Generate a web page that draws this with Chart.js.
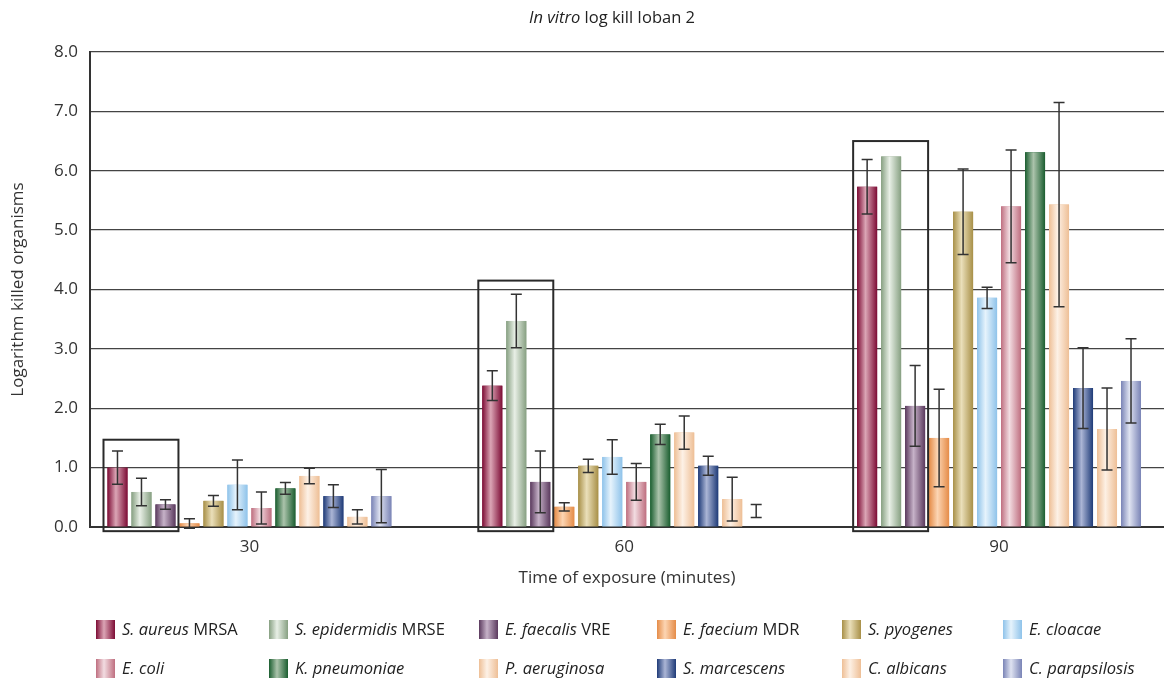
<!DOCTYPE html>
<html>
<head>
<meta charset="utf-8">
<script src="https://cdn.jsdelivr.net/npm/chart.js@4.4.0/dist/chart.umd.min.js"></script>
<style>
  body { margin: 0; background: #fff; }
  canvas { display: block; }
</style>
</head>
<body>
<canvas id="grafico_logkill" width="1164" height="680"></canvas>
<script>
// exposure times (minutes) = x ticks
const exposureTimes = [30, 60, 90];

const species = ['S. aureus', 'S. epidermidis', 'E. faecalis', 'E. faecium', 'S. pyogenes', 'E. cloacae',
                 'E. coli', 'K. pneumoniae', 'P. aeruginosa', 'S. marcescens', 'C. albicans', 'C. parapsilosis'];
const strainTags = ['MRSA', 'MRSE', 'VRE', 'MDR', '', '', '', '', '', '', '', ''];

// mean log kill per organism, one array per exposure time
const logKill30 = [1.00, 0.59, 0.38, 0.06, 0.44, 0.71, 0.32, 0.65, 0.86, 0.52, 0.17, 0.52];
const logKill60 = [2.38, 3.47, 0.76, 0.34, 1.03, 1.18, 0.76, 1.56, 1.59, 1.03, 0.47, 0.27];
const logKill90 = [5.73, 6.24, 2.04, 1.50, 5.31, 3.86, 5.40, 6.31, 5.43, 2.34, 1.65, 2.46];

// error bars (+/-), null = none drawn
const err30 = [0.28, 0.23, 0.08, 0.08, 0.09, 0.42, 0.27, 0.10, 0.13, 0.19, 0.12, 0.45];
const err60 = [0.25, 0.45, 0.52, 0.07, 0.11, 0.29, 0.31, 0.17, 0.28, 0.16, 0.37, 0.11];
const err90 = [0.46, null, 0.68, 0.82, 0.72, 0.18, 0.95, null, 1.72, 0.68, 0.69, 0.71];

// frames round the resistant strains (top value of each frame)
const frameTops = [1.47, 4.15, 6.5];

// [organism, time index] where only the error bar shows
const barsNotDrawn = [[11, 1]];

const logKill = [logKill30, logKill60, logKill90];
const errs = [err30, err60, err90];

// colours: bar edge and bar highlight
const edgeCol = ['#7d0c35', '#87a082', '#5b3a5e', '#e58c48', '#a89048', '#8fc3ea',
                 '#bf6f80', '#1b5e30', '#eebf96', '#1f3b78', '#eebf96', '#7a84b6'];
const lightCol = ['#dba5b5', '#e8efe6', '#c6b2c8', '#fcd5b3', '#eadfba', '#e6f3fc',
                  '#f2dce1', '#abc3ab', '#fdf1e6', '#abb5d5', '#fdf0e4', '#dfe3f1'];

const FONT = 'Open Sans';
const ctx = document.getElementById('grafico_logkill');

function semBarra(i, j) {
  return barsNotDrawn.some(p => p[0] === i && p[1] === j);
}

function gradiente(c, left, width, i) {
  const g = c.createLinearGradient(left, 0, left + width, 0);
  g.addColorStop(0, edgeCol[i]);
  g.addColorStop(0.42, lightCol[i]);
  g.addColorStop(1, edgeCol[i]);
  return g;
}

const datasets = species.map((nome, i) => ({
  label: (nome + ' ' + strainTags[i]).trim(),
  data: exposureTimes.map((t, j) => ({ x: t, y: logKill[j][i] })),
  backgroundColor: c => semBarra(i, c.dataIndex) ? 'rgba(0,0,0,0)' : edgeCol[i],
  borderWidth: 0
}));

const extrasPlugin = {
  id: 'extras',
  afterDatasetsDraw(chart) {
    const c = chart.ctx;
    const y = chart.scales.y;
    c.save();
    // bars with the cylinder shading
    chart.data.datasets.forEach((ds, i) => {
      const meta = chart.getDatasetMeta(i);
      meta.data.forEach((bar, j) => {
        if (semBarra(i, j)) return;
        const left = bar.x - bar.width / 2;
        c.fillStyle = gradiente(c, left, bar.width, i);
        c.fillRect(left, bar.y, bar.width, bar.base - bar.y);
      });
    });
    // error bars
    c.strokeStyle = '#333';
    c.lineWidth = 1.5;
    chart.data.datasets.forEach((ds, i) => {
      const meta = chart.getDatasetMeta(i);
      meta.data.forEach((bar, j) => {
        const e = errs[j][i];
        if (e == null) return;
        const v = logKill[j][i];
        const yt = y.getPixelForValue(v + e);
        const yb = y.getPixelForValue(v - e);
        c.beginPath();
        c.moveTo(bar.x, yt); c.lineTo(bar.x, yb);
        c.moveTo(bar.x - 5.5, yt); c.lineTo(bar.x + 5.5, yt);
        c.moveTo(bar.x - 5.5, yb); c.lineTo(bar.x + 5.5, yb);
        c.stroke();
      });
    });
    // frames
    c.strokeStyle = '#2a2a2a';
    c.lineWidth = 2;
    frameTops.forEach((topo, j) => {
      const b0 = chart.getDatasetMeta(0).data[j];
      const b2 = chart.getDatasetMeta(2).data[j];
      const l = b0.x - b0.width / 2 - 4;
      const r = b2.x + b2.width / 2 + 3;
      const t = y.getPixelForValue(topo);
      const b = y.getPixelForValue(-0.07);
      c.strokeRect(l, t, r - l, b - t);
    });
    c.restore();
  },
  afterDraw(chart) {
    const c = chart.ctx;
    c.save();
    c.fillStyle = '#222';
    c.textBaseline = 'middle';
    // title
    c.font = 'italic 16.5px "' + FONT + '"';
    const p1 = 'In vitro';
    const w1 = c.measureText(p1 + ' ').width;
    c.font = '16.5px "' + FONT + '"';
    const p2 = 'log kill Ioban 2';
    const w2 = c.measureText(p2).width;
    let x0 = 612 - (w1 + w2) / 2;
    c.font = 'italic 16.5px "' + FONT + '"';
    c.fillText(p1, x0, 18);
    c.font = '16.5px "' + FONT + '"';
    c.fillText(p2, x0 + w1, 18);
    // legend
    const colX = [96, 269, 479, 657, 842, 1003];
    const rowY = [620, 659];
    species.forEach((nome, i) => {
      const sx = colX[i % 6];
      const sy = rowY[Math.floor(i / 6)];
      c.fillStyle = gradiente(c, sx, 19, i);
      c.fillRect(sx, sy, 19, 19);
      c.fillStyle = '#222';
      c.font = 'italic 16.5px "' + FONT + '"';
      c.fillText(nome, sx + 26, sy + 10);
      if (strainTags[i]) {
        const w = c.measureText(nome + ' ').width;
        c.font = '16.5px "' + FONT + '"';
        c.fillText(strainTags[i], sx + 26 + w, sy + 10);
      }
    });
    c.restore();
  }
};

new Chart(ctx, {
  type: 'bar',
  data: { datasets: datasets },
  options: {
    responsive: false,
    animation: false,
    categoryPercentage: 0.768,
    barPercentage: 0.833,
    layout: { padding: { top: 52, right: 0, bottom: 90, left: 0 } },
    plugins: {
      legend: { display: false },
      title: { display: false },
      tooltip: { enabled: false }
    },
    scales: {
      x: {
        type: 'linear',
        min: 17.24,
        max: 103.2,
        offset: false,
        grid: { display: false, drawTicks: false },
        border: { display: true, color: '#333', width: 2 },
        afterBuildTicks: s => { s.ticks = exposureTimes.map(v => ({ value: v })); },
        ticks: { padding: 10, color: '#333', font: { family: FONT, size: 17 }, callback: v => String(v) },
        title: { display: true, text: 'Time of exposure (minutes)', color: '#333',
                 font: { family: FONT, size: 17 }, padding: { top: 4, bottom: 2 } },
        afterFit: s => { s.height = 63; }
      },
      y: {
        min: 0,
        max: 8,
        grid: { color: '#444', lineWidth: 1.3, drawTicks: false },
        border: { color: '#333', width: 2 },
        ticks: { stepSize: 1, padding: 12, color: '#333', font: { family: FONT, size: 17 },
                 callback: v => Number(v).toFixed(1) },
        title: { display: true, text: 'Logarithm killed organisms', color: '#333',
                 font: { family: FONT, size: 17 }, padding: { top: 8, bottom: 0 } },
        afterFit: s => { s.width = 90; }
      }
    }
  },
  plugins: [extrasPlugin]
});
</script>
</body>
</html>
